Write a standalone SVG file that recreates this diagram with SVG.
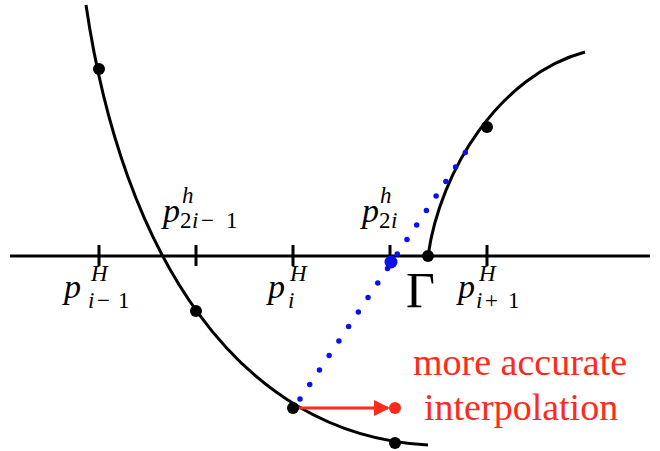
<svg xmlns="http://www.w3.org/2000/svg" width="660" height="451" viewBox="0 0 660 451">
<style>
.ln{fill:none;stroke:#000;stroke-width:3}
.dot{fill:#000}
.m{font-family:"Liberation Serif","Times New Roman","DejaVu Serif",serif;fill:#000}
.it{font-style:italic}
.red{font-family:"Liberation Serif","Times New Roman","DejaVu Serif",serif;fill:#ff2a1a;font-size:38px}
</style>
<defs>
<marker id="ah" viewBox="0 0 16 16" refX="14" refY="8" markerWidth="16" markerHeight="16" markerUnits="userSpaceOnUse" orient="auto">
<path d="M0,0 L16,8 L0,16 z" fill="#ff2a1a"/>
</marker>
</defs>
<rect width="660" height="451" fill="#fff"/>
<g id="axis">
<line class="ln" x1="10" y1="256" x2="650" y2="256"/>
<line class="ln" x1="99" y1="245" x2="99" y2="266"/>
<line class="ln" x1="196" y1="245" x2="196" y2="266"/>
<line class="ln" x1="293" y1="245" x2="293" y2="266"/>
<line class="ln" x1="390" y1="245" x2="390" y2="266"/>
<line class="ln" x1="487" y1="245" x2="487" y2="266"/>
</g>
<g id="curves">
<path class="ln" d="M86,5 C122,250 235,435 428,445"/>
<path class="ln" d="M428,256 C440,170 500,75 585,52"/>
</g>
<g id="connectors">
<line x1="300" y1="399" x2="475" y2="138" stroke="#0a10f0" stroke-width="5.5" stroke-linecap="round" stroke-dasharray="0 17.46"/>
<line x1="293" y1="408" x2="388" y2="408" stroke="#ff2a1a" stroke-width="3" marker-end="url(#ah)"/>
</g>
<g id="points">
<circle class="dot" cx="99" cy="69" r="6"/>
<circle class="dot" cx="196" cy="311" r="6"/>
<circle class="dot" cx="293" cy="408" r="6"/>
<circle class="dot" cx="395" cy="443" r="6"/>
<circle class="dot" cx="428" cy="256" r="6"/>
<circle class="dot" cx="487" cy="127" r="6"/>
<circle cx="391" cy="262" r="6.5" fill="#0a10f0"/>
<circle cx="395" cy="408" r="6" fill="#ff2a1a"/>
</g>
<g id="label-pH-im1">
<text class="m it" x="64" y="298" font-size="34">p</text>
<text class="m it" x="91" y="281" font-size="23">H</text>
<text class="m" y="308" font-size="23"><tspan class="it" x="88">i</tspan><tspan x="97">−</tspan><tspan x="118">1</tspan></text>
</g>
<g id="label-ph-2im1">
<text class="m it" x="163" y="222" font-size="34">p</text>
<text class="m it" x="182" y="203" font-size="23">h</text>
<text class="m" y="228" font-size="23"><tspan x="180">2</tspan><tspan class="it" x="192">i</tspan><tspan x="201">−</tspan><tspan x="226">1</tspan></text>
</g>
<g id="label-pH-i">
<text class="m it" x="268" y="298" font-size="34">p</text>
<text class="m it" x="290" y="281" font-size="23">H</text>
<text class="m it" x="288" y="308" font-size="23">i</text>
</g>
<g id="label-ph-2i">
<text class="m it" x="362" y="222" font-size="34">p</text>
<text class="m it" x="380" y="203" font-size="23">h</text>
<text class="m" y="228" font-size="23"><tspan x="379">2</tspan><tspan class="it" x="391">i</tspan></text>
</g>
<g id="label-gamma">
<text class="m" x="406" y="307" font-size="50">Γ</text>
</g>
<g id="label-pH-ip1">
<text class="m it" x="458" y="298" font-size="34">p</text>
<text class="m it" x="479" y="281" font-size="23">H</text>
<text class="m" y="308" font-size="23"><tspan class="it" x="476">i</tspan><tspan x="485">+</tspan><tspan x="508">1</tspan></text>
</g>
<g id="label-note">
<text class="red" x="413" y="375">more accurate</text>
<text class="red" x="424" y="420">interpolation</text>
</g>
</svg>
